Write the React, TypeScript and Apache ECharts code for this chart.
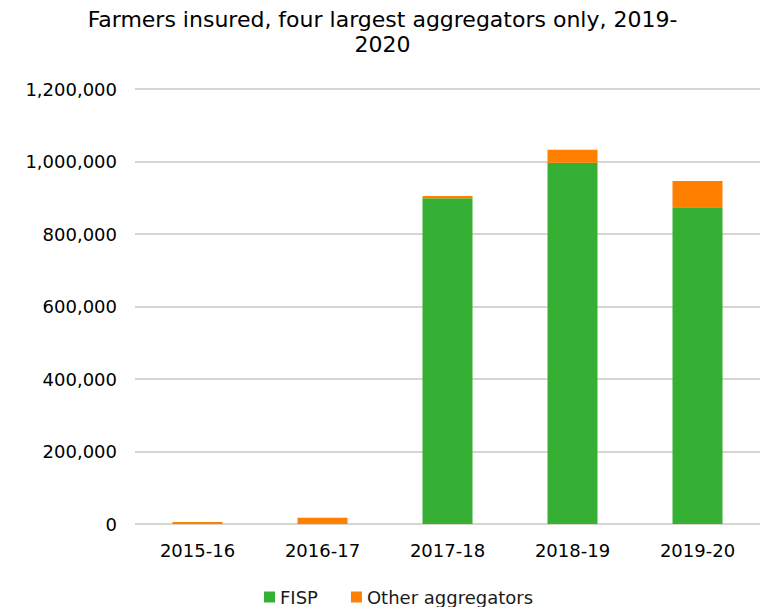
import React, { useEffect, useRef } from "react";
import * as echarts from "echarts";

const categories = ["2015-16", "2016-17", "2017-18", "2018-19", "2019-20"];
const fispValues = [0, 0, 898500, 996700, 873600];
const otherValues = [5500, 17000, 6300, 36000, 72600];
const yTicks = [0, 200000, 400000, 600000, 800000, 1000000, 1200000];

export default function App() {
  const ref = useRef<HTMLDivElement>(null);
  useEffect(() => {
    if (!ref.current) return;
    const chart = echarts.init(ref.current, null, { renderer: "svg" });
    const font = "DejaVu Sans, Verdana, sans-serif";
    chart.setOption({
      animation: false,
      backgroundColor: "#ffffff",
      title: {
        text: "Farmers insured, four largest aggregators only, 2019-\n2020",
        left: "center",
        top: 2,
        textStyle: { fontFamily: font, fontSize: 22, fontWeight: "normal", color: "#000", lineHeight: 25 },
      },
      legend: {
        top: 588,
        left: 264,
        padding: 0,
        itemWidth: 11,
        itemHeight: 11,
        itemGap: 33,
        icon: "rect",
        textStyle: { fontFamily: font, fontSize: 18, color: "#1a1a1a" },
        data: ["FISP", "Other aggregators"],
      },
      grid: { left: 135, right: 5, top: 89, bottom: 83, containLabel: false },
      xAxis: {
        type: "category",
        data: categories,
        axisLine: { show: false },
        axisTick: { show: false },
        axisLabel: { fontFamily: font, fontSize: 18, color: "#000", margin: 17 },
      },
      yAxis: {
        type: "value",
        min: yTicks[0],
        max: yTicks[yTicks.length - 1],
        interval: 200000,
        axisLine: { show: false },
        axisTick: { show: false },
        splitLine: { lineStyle: { color: "#d9d5cc", width: 2 } },
        axisLabel: {
          fontFamily: font,
          fontSize: 18,
          color: "#000",
          margin: 18,
          formatter: (v: number) => v.toLocaleString("en-US"),
        },
      },
      series: [
        {
          name: "FISP",
          type: "bar",
          stack: "total",
          data: fispValues,
          barWidth: "40%",
          itemStyle: { color: "#35b035" },
        },
        {
          name: "Other aggregators",
          type: "bar",
          stack: "total",
          data: otherValues,
          barWidth: "40%",
          itemStyle: { color: "#ff7f00" },
        },
      ],
    });
    return () => chart.dispose();
  }, []);
  return <div ref={ref} style={{ position: "fixed", left: 0, top: 0, width: 765, height: 607 }} />;
}
